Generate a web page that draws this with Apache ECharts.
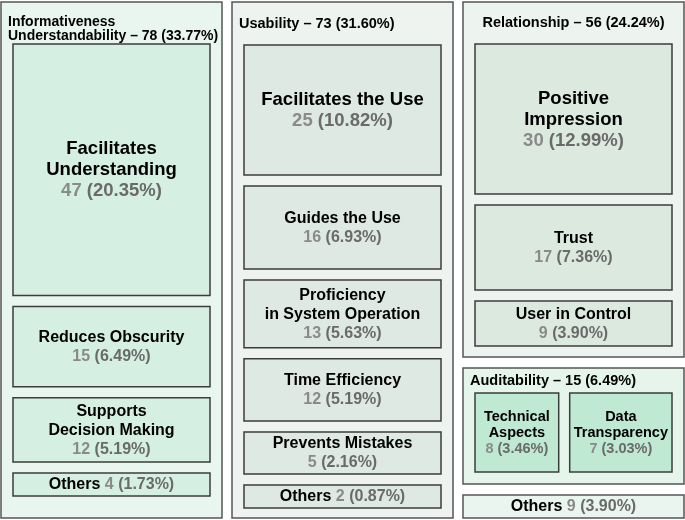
<!DOCTYPE html>
<html><head><meta charset="utf-8">
<script src="https://cdn.jsdelivr.net/npm/echarts@6/dist/echarts.min.js"></script>
<style>html,body{margin:0;padding:0;background:#fff}#c{width:685px;height:520px}</style>
</head><body><div id="c"></div><script>
// ---------- data ----------
const TOTAL = 231;
const groupNames = ['Informativeness\nUnderstandability', 'Usability', 'Relationship', 'Auditability', 'Others'];
const groupValues = [78, 73, 56, 15, 9];
const informativenessNames = ['Facilitates\nUnderstanding', 'Reduces Obscurity', 'Supports\nDecision Making', 'Others'];
const informativenessValues = [47, 15, 12, 4];
const usabilityNames = ['Facilitates the Use', 'Guides the Use', 'Proficiency\nin System Operation', 'Time Efficiency', 'Prevents Mistakes', 'Others'];
const usabilityValues = [25, 16, 13, 12, 5, 2];
const relationshipNames = ['Positive\nImpression', 'Trust', 'User in Control'];
const relationshipValues = [30, 17, 9];
const auditabilityNames = ['Technical\nAspects', 'Data\nTransparency'];
const auditabilityValues = [8, 7];

// ---------- layout / style ----------
const FONT = '"Liberation Sans", Arial, Helvetica, sans-serif';
const L = { top: 2, bottom: 518, left: 1, right: 684, colGap: 10, groupGap: 11, childGap: 11, sidePad: 12 };
const groupStyle = [
  { fill: '#e9f6ef', leaf: '#d5efe2', headerH: 42, bottomPad: 22, headerSize: 14, align: 'left', dir: 'v' },
  { fill: '#eef3f0', leaf: '#dde9e2', headerH: 43, bottomPad: 10, headerSize: 14.5, align: 'left', dir: 'v' },
  { fill: '#edf3ef', leaf: '#dce9df', headerH: 42, bottomPad: 11, headerSize: 14.5, align: 'center', dir: 'v' },
  { fill: '#e5f5eb', leaf: '#bfe9d3', headerH: 25, bottomPad: 12, headerSize: 14.5, align: 'left', dir: 'h' },
  { fill: '#e9f5ee' }
];
const columns = [[0], [1], [2, 3, 4]];
const groupChildren = [
  [informativenessNames, informativenessValues],
  [usabilityNames, usabilityValues],
  [relationshipNames, relationshipValues],
  [auditabilityNames, auditabilityValues],
  null
];
const tiers = {
  big:   { size: 18.5, lh: 21, pad: 2 },
  small: { size: 16,   lh: 19, pad: 2 },
  tile:  { size: 14.5, lh: 16, pad: 15.5 },
  strip: { size: 16,   lh: 19, pad: 2 }
};
const numColor = '#8a8a8a', pctColor = '#6a6a6a', borderColor = '#3c3c3c', groupBorder = '#555';

const pct = v => (v / TOTAL * 100).toFixed(2) + '%';
const isOthers = n => n === 'Others';
function tierOf(gi, name, v) {
  if (isOthers(name)) return 'strip';
  if (groupStyle[gi].dir === 'h') return 'tile';
  return v >= 25 ? 'big' : 'small';
}
function nLines(name) { return isOthers(name) ? 1 : name.split('\n').length + 1; }
function minH(tier, name) { const t = tiers[tier]; return nLines(name) * t.lh + 2 * t.pad; }

const ctx = document.createElement('canvas').getContext('2d');
function textW(str, size) { ctx.font = 'bold ' + size + 'px ' + FONT; return ctx.measureText(str).width; }
function minW(tier, name, v) {
  const t = tiers[tier];
  const lines = name.split('\n').concat([v + ' (' + pct(v) + ')']);
  return Math.max.apply(null, lines.map(s => textW(s, t.size))) + 8;
}

function allocate(total, weights, mins) {
  const n = weights.length, fixed = new Array(n).fill(false);
  let sizes = [];
  for (let it = 0; it <= n; it++) {
    let rem = total, ws = 0;
    for (let i = 0; i < n; i++) { if (fixed[i]) rem -= mins[i]; else ws += weights[i]; }
    const k = ws > 0 ? rem / ws : 0;
    sizes = weights.map((w, i) => fixed[i] ? mins[i] : w * k);
    let changed = false;
    for (let i = 0; i < n; i++) if (!fixed[i] && sizes[i] < mins[i]) { fixed[i] = true; changed = true; }
    if (!changed) break;
  }
  return sizes;
}

function groupMin(gi) {
  if (!groupChildren[gi]) return minH('strip', 'Others');
  const [names, vals] = groupChildren[gi], gs = groupStyle[gi];
  const mins = names.map((n, i) => minH(tierOf(gi, n, vals[i]), n));
  const inner = gs.dir === 'h' ? Math.max.apply(null, mins)
    : mins.reduce((a, b) => a + b, 0) + L.childGap * (mins.length - 1);
  return gs.headerH + inner + gs.bottomPad;
}

const cells = [];
const colW = (L.right - L.left - L.colGap * (columns.length - 1)) / columns.length;
columns.forEach((col, ci) => {
  const x0 = L.left + ci * (colW + L.colGap), x1 = x0 + colW;
  const avail = L.bottom - L.top - L.groupGap * (col.length - 1);
  const hs = allocate(avail, col.map(g => isOthers(groupNames[g]) ? 0 : groupValues[g]), col.map(groupMin));
  let y = L.top;
  col.forEach((gi, k) => {
    const y0 = y, y1 = y + hs[k];
    y = y1 + L.groupGap;
    if (!groupChildren[gi]) {
      cells.push({ r: [x0, y0, x1, y1], kind: 'strip', fill: groupStyle[gi].fill, name: groupNames[gi], v: groupValues[gi], tier: 'strip', border: groupBorder });
      return;
    }
    const gs = groupStyle[gi];
    cells.push({ r: [x0, y0, x1, y1], kind: 'group', fill: gs.fill, name: groupNames[gi], v: groupValues[gi], align: gs.align, headerH: gs.headerH, headerSize: gs.headerSize });
    const [names, vals] = groupChildren[gi];
    const cx0 = x0 + L.sidePad, cx1 = x1 - L.sidePad, cy0 = y0 + gs.headerH, cy1 = y1 - gs.bottomPad;
    if (gs.dir === 'v') {
      const tot = cy1 - cy0 - L.childGap * (names.length - 1);
      const ws = names.map((n, i) => isOthers(n) ? 0 : vals[i]);
      const ms = names.map((n, i) => minH(tierOf(gi, n, vals[i]), n));
      const sz = allocate(tot, ws, ms);
      let yy = cy0;
      names.forEach((n, i) => {
        cells.push({ r: [cx0, yy, cx1, yy + sz[i]], kind: 'leaf', fill: gs.leaf, name: n, v: vals[i], tier: tierOf(gi, n, vals[i]), border: borderColor });
        yy += sz[i] + L.childGap;
      });
    } else {
      const tot = cx1 - cx0 - L.childGap * (names.length - 1);
      const ms = names.map((n, i) => minW(tierOf(gi, n, vals[i]), n, vals[i]));
      const sz = allocate(tot, vals, ms);
      let xx = cx0;
      names.forEach((n, i) => {
        cells.push({ r: [xx, cy0, xx + sz[i], cy1], kind: 'leaf', fill: gs.leaf, name: n, v: vals[i], tier: tierOf(gi, n, vals[i]), border: borderColor });
        xx += sz[i] + L.childGap;
      });
    }
  });
});

function leafText(name, v) {
  if (isOthers(name)) return '{n|Others} {v|' + v + '} {p|(' + pct(v) + ')}';
  return name.split('\n').map(l => '{n|' + l + '}').concat(['{v|' + v + '} {p|(' + pct(v) + ')}']).join('\n');
}

function renderItem(params, api) {
  const c = cells[params.dataIndex];
  const p0 = api.coord([api.value(0), api.value(1)]);
  const p1 = api.coord([api.value(2), api.value(3)]);
  const x = Math.min(p0[0], p1[0]), y = Math.min(p0[1], p1[1]);
  const w = Math.abs(p1[0] - p0[0]), h = Math.abs(p1[1] - p0[1]);
  const children = [{
    type: 'rect', shape: { x: x, y: y, width: w, height: h },
    style: { fill: c.fill, stroke: c.kind === 'group' ? groupBorder : c.border, lineWidth: 1.5 }
  }];
  if (c.kind === 'group') {
    const lines = c.name.split('\n');
    lines[lines.length - 1] += ' \u2013 ' + c.v + ' (' + pct(c.v) + ')';
    children.push({
      type: 'text',
      style: {
        x: c.align === 'center' ? x + w / 2 : x + 7,
        y: y + c.headerH / 2 + (lines.length - 1) * 6,
        text: lines.join('\n'), align: c.align, verticalAlign: 'middle',
        fontFamily: FONT, fontWeight: 'bold', fontSize: c.headerSize, lineHeight: 14, fill: '#000'
      }
    });
  } else {
    const t = tiers[c.tier];
    children.push({
      type: 'text',
      style: {
        x: x + w / 2, y: y + h / 2 + 0.5, text: leafText(c.name, c.v),
        align: 'center', verticalAlign: 'middle',
        fontFamily: FONT, fontWeight: 'bold', fontSize: t.size, lineHeight: t.lh, fill: '#000',
        rich: {
          n: { fontFamily: FONT, fontWeight: 'bold', fontSize: t.size, lineHeight: t.lh, fill: '#000' },
          v: { fontFamily: FONT, fontWeight: 'bold', fontSize: t.size, lineHeight: t.lh, fill: numColor },
          p: { fontFamily: FONT, fontWeight: 'bold', fontSize: t.size, lineHeight: t.lh, fill: pctColor }
        }
      }
    });
  }
  return { type: 'group', children: children };
}

const chart = echarts.init(document.getElementById('c'), null, { renderer: 'canvas' });
chart.setOption({
  animation: false,
  backgroundColor: '#fff',
  grid: { left: 0, right: 0, top: 0, bottom: 0 },
  xAxis: { type: 'value', min: 0, max: 685, show: false },
  yAxis: { type: 'value', min: 0, max: 520, inverse: true, show: false },
  series: [{
    type: 'custom', renderItem: renderItem, clip: false,
    data: cells.map(c => c.r)
  }]
});
</script></body></html>
